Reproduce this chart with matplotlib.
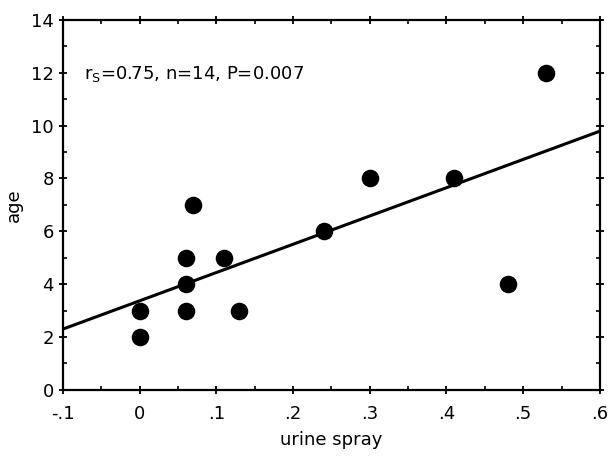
import matplotlib
matplotlib.use("Agg")
import matplotlib.pyplot as plt
import numpy as np
from matplotlib.ticker import MultipleLocator, FixedLocator

urine_spray = [0.00, 0.00, 0.06, 0.06, 0.06, 0.07, 0.11, 0.13, 0.24, 0.30, 0.41, 0.48, 0.53]
age = [2, 3, 3, 4, 5, 7, 5, 3, 6, 8, 8, 4, 12]
line_intercept = 3.37
line_slope = 10.7
x_ticks = [-0.1, 0.0, 0.1, 0.2, 0.3, 0.4, 0.5, 0.6]
x_tick_labels = ["-.1", "0", ".1", ".2", ".3", ".4", ".5", ".6"]
y_ticks = [0, 2, 4, 6, 8, 10, 12, 14]

plt.rcParams['font.family'] = ['DejaVu Sans']
fig = plt.figure(figsize=(6.08, 4.63), dpi=100)
ax = fig.add_axes([0.1036, 0.158, 0.883, 0.799])

ax.scatter(urine_spray, age, s=160, color='black', zorder=3, linewidths=0)
xl = np.array([-0.1, 0.6])
ax.plot(xl, line_intercept + line_slope * xl, color='black', lw=2.2, zorder=2)

ax.set_xlim(-0.1, 0.6)
ax.set_ylim(0, 14)
ax.xaxis.set_major_locator(FixedLocator(x_ticks))
ax.set_xticklabels(x_tick_labels)
ax.yaxis.set_major_locator(FixedLocator(y_ticks))
ax.xaxis.set_minor_locator(MultipleLocator(0.05))
ax.yaxis.set_minor_locator(MultipleLocator(1))
ax.tick_params(which='major', direction='inout', length=6, width=1.3, labelsize=13, right=True, top=True)
ax.tick_params(axis='x', which='major', pad=8)
ax.tick_params(which='minor', direction='in', length=3, width=1.2, right=True, top=True)
for s in ax.spines.values():
    s.set_linewidth(1.6)

ax.set_xlabel("urine spray", fontsize=13, labelpad=6)
ax.set_ylabel("age", fontsize=13, labelpad=6)
ax.text(0.04, 0.855, r"r$_\mathregular{S}$=0.75, n=14, P=0.007", transform=ax.transAxes,
        fontsize=13, ha='left', va='center')

fig.savefig("out.png", dpi=100)
